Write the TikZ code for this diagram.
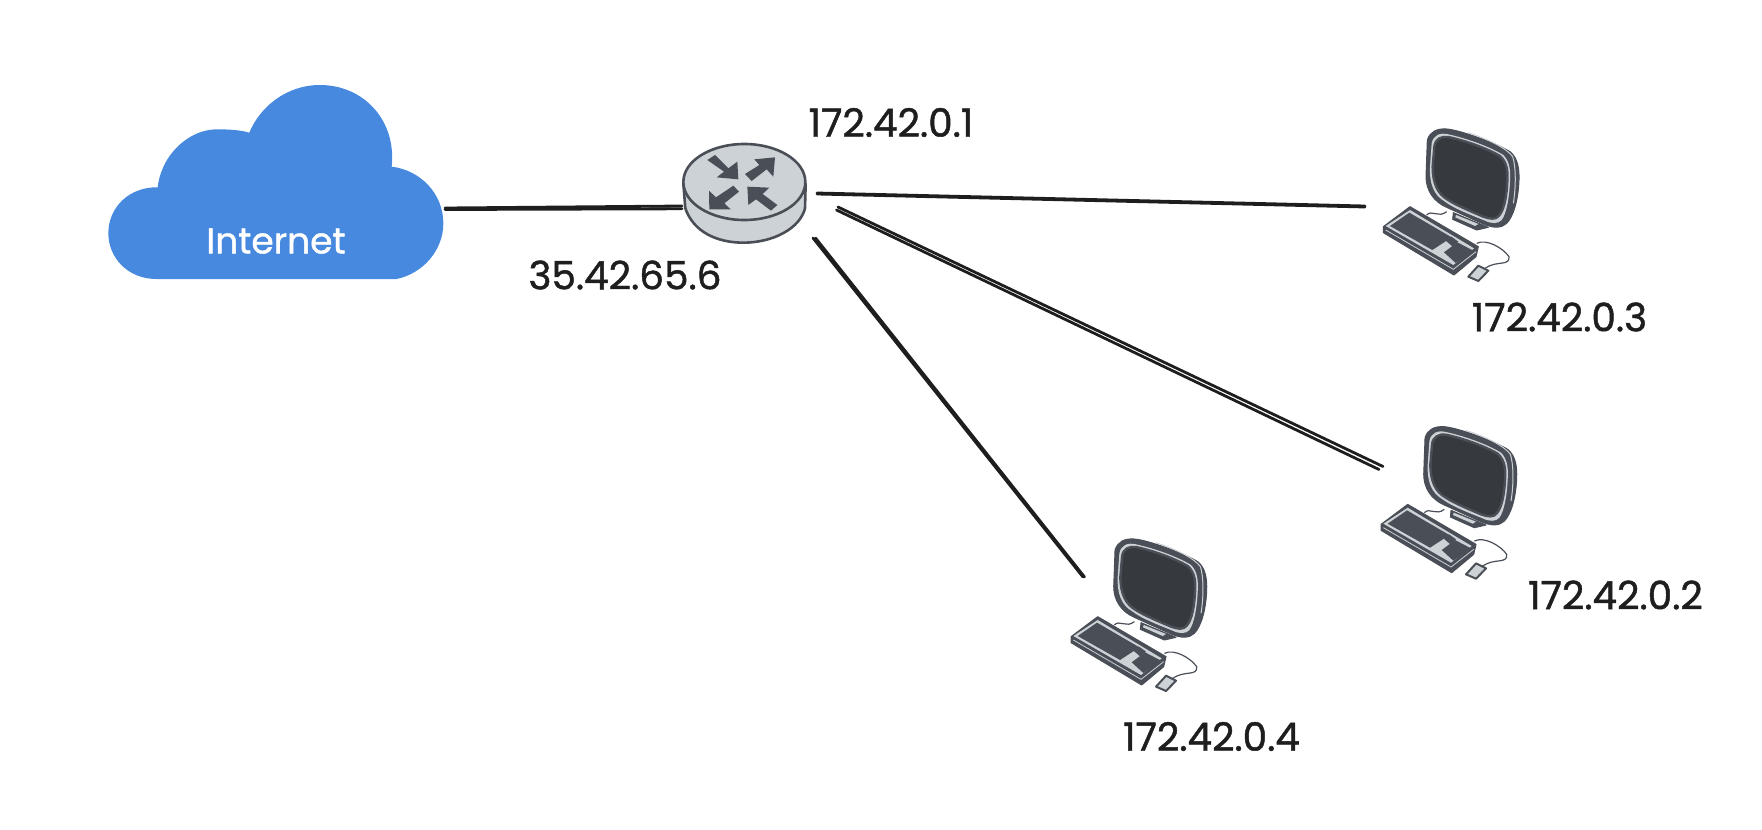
\documentclass[tikz,border=0pt]{standalone}
\usepackage{fontspec}
\newfontface\handfont[FakeBold=1.2]{Poppins}
\definecolor{cloudblue}{HTML}{4689DF}
\definecolor{devdark}{HTML}{4A4F57}
\definecolor{devlight}{HTML}{CDD2D6}
\definecolor{devscreen}{HTML}{363A3E}
\definecolor{linkink}{HTML}{1E1E1E}
\tikzset{
  link/.style={linkink,line width=2.8pt,line cap=round},
  addr/.style={inner sep=0pt,outer sep=0pt,text=linkink,font=\handfont\fontsize{39}{44}\selectfont},
  hostpc/.pic={
    % rear rim, face, screen
    \filldraw[devdark,line width=1pt] (232,120) .. controls (240,95) and (260,85) .. (290,87) .. controls (330,90) and (440,130) .. (480,155) .. controls (505,175) and (508,210) .. (507,240) .. controls (505,300) and (490,350) .. (470,370) .. controls (455,385) and (430,385) .. (400,372) -- (290,322) .. controls (250,305) and (228,270) .. (228,230) -- cycle;
    \draw[devlight,line width=1pt] (355,98) .. controls (420,120) and (470,145) .. (488,170) .. controls (498,200) and (498,260) .. (490,310);
    \fill[devlight] (245,130) .. controls (250,105) and (270,97) .. (295,103) .. controls (350,115) and (420,140) .. (460,165) .. controls (480,185) and (482,215) .. (480,245) .. controls (478,290) and (470,340) .. (455,360) .. controls (445,372) and (425,372) .. (405,362) .. controls (370,348) and (310,325) .. (285,305) .. controls (250,285) and (238,250) .. (240,200) -- cycle;
    \filldraw[devscreen,draw=devdark,line width=2.4pt] (253,140) .. controls (256,116) and (275,108) .. (295,111) .. controls (350,123) and (412,146) .. (450,168) .. controls (472,188) and (474,215) .. (472,245) .. controls (470,285) and (464,327) .. (447,347) .. controls (437,360) and (420,357) .. (400,350) .. controls (370,337) and (320,317) .. (293,299) .. controls (263,282) and (248,250) .. (248,200) -- cycle;
    % stand
    \filldraw[fill=devdark,draw=devdark,line width=1pt,line join=round] (310,338) -- (415,382) -- (380,390) -- (308,358) -- cycle;
    \fill[devlight] (318,345) -- (385,372) -- (375,378) -- (316,352) -- cycle;
    % keyboard
    \filldraw[fill=devdark,draw=devdark,line width=1pt,line join=round] (100,380) -- (180,320) -- (385,440) -- (378,470) -- (312,525) -- (100,398) -- cycle;
    \fill[devlight] (107,378) -- (180,330) -- (372,445) -- (310,495) -- cycle;
    \fill[devdark] (120,378) -- (178,338) -- (305,412) -- (247,450) -- cycle;
    \fill[devdark] (285,420) -- (304,410) -- (325,425) -- (307,439) -- cycle;
    \fill[devdark] (282,457) -- (322,427) -- (370,452) -- (317,489) -- cycle;
    \draw[devlight,line width=.8pt] (107,390) -- (310,508) -- (378,455);
    % cables and mouse
    \draw[devdark,line width=1.2pt] (230,345) .. controls (245,328) and (265,355) .. (290,335);
    \draw[devdark,line width=1.2pt] (380,430) .. controls (410,415) and (460,445) .. (477,470) .. controls (480,500) and (440,480) .. (405,505);
    \filldraw[fill=devlight,draw=devdark,line width=2pt,line join=round] (355,530) -- (385,497) -- (415,512) -- (385,543) -- cycle;
  },
  netrouter/.pic={
    \filldraw[fill=devlight,draw=devdark,line width=2.6pt] (70,190) -- (76,265) .. controls (100,335) and (170,368) .. (250,368) .. controls (340,368) and (420,325) .. (435,265) -- (437,190);
    \filldraw[fill=devlight,draw=devdark,line width=2.6pt] (253,186) ellipse [x radius=183,y radius=114];
    \fill[devdark] (142,120) -- (165,105) -- (205,145) -- (232,125) -- (235,178) -- (170,172) -- (192,155) -- cycle;
    \fill[devdark] (255,162) -- (275,183) -- (320,148) -- (340,170) -- (345,112) -- (283,118) -- (298,135) -- cycle;
    \fill[devdark] (220,197) -- (237,215) -- (193,250) -- (212,268) -- (148,268) -- (147,212) -- (168,232) -- cycle;
    \fill[devdark] (262,200) -- (328,203) -- (308,222) -- (352,255) -- (333,272) -- (288,238) -- (265,255) -- cycle;
  },
  netcloud/.pic={
    \fill[cloudblue] (200,627) .. controls (110,627) and (55,560) .. (55,490) .. controls (55,410) and (120,350) .. (203,352) .. controls (215,250) and (300,178) .. (380,178) .. controls (420,178) and (450,180) .. (478,188) .. controls (510,110) and (590,45) .. (690,45) .. controls (820,45) and (920,150) .. (905,290) .. controls (990,300) and (1060,370) .. (1060,460) .. controls (1060,540) and (1000,610) .. (920,627) -- cycle;
  }
}
\begin{document}
\begin{tikzpicture}[x=1pt,y=-1pt]
  \useasboundingbox (0,0) rectangle (1762,830);

  \pic[scale=1/3] (cloud) at (90,70) {netcloud};
  \pic[scale=1/3] (router) at (660,120) {netrouter};
  \pic[scale=1/3] (hostc) at (1350,100) {hostpc};
  \pic[scale=1/3] (hostb) at (1347.7,397.7) {hostpc};
  \pic[scale=1/3] (hostd) at (1037.7,510) {hostpc};

  \coordinate (cloudport) at (445,208);
  \coordinate (routerw) at (682,206);
  \coordinate (routere) at (817,193);
  \coordinate (routerse) at (838,207);
  \coordinate (routers) at (813,238);
  \coordinate (hostcport) at (1365,206);
  \coordinate (hostbport) at (1383,466.5);
  \coordinate (hostdport) at (1083,577);

  \draw[link] (cloudport) -- (routerw);
  \draw[link] ([yshift=-1.5pt]cloudport) -- ([yshift=-2.8pt]routerw);
  \draw[link] (routere) -- (hostcport);
  \draw[link] ([yshift=-1pt]routere) -- ([yshift=-1pt]hostcport);
  \draw[link] (routerse) -- (hostbport);
  \draw[link] ([shift={(-1.5,3)}]routerse) -- ([shift={(-4,3)}]hostbport);
  \draw[link] (routers) -- (hostdport);
  \draw[link] ([xshift=2.5pt]routers) -- ([xshift=1.5pt]hostdport);

  \node[addr,text=white,font=\handfont\fontsize{36}{40}\selectfont] (internetlabel) at (276,241) {Internet};
  \node[addr] (gatewaylabel) at (891,122.5) {172.42.0.1};
  \node[addr] (publiclabel) at (625,275) {35.42.65.6};
  \node[addr] (hostclabel) at (1559.5,317) {172.42.0.3};
  \node[addr] (hostblabel) at (1615.5,595) {172.42.0.2};
  \node[addr] (hostdlabel) at (1211.5,736.5) {172.42.0.4};
\end{tikzpicture}
\end{document}
